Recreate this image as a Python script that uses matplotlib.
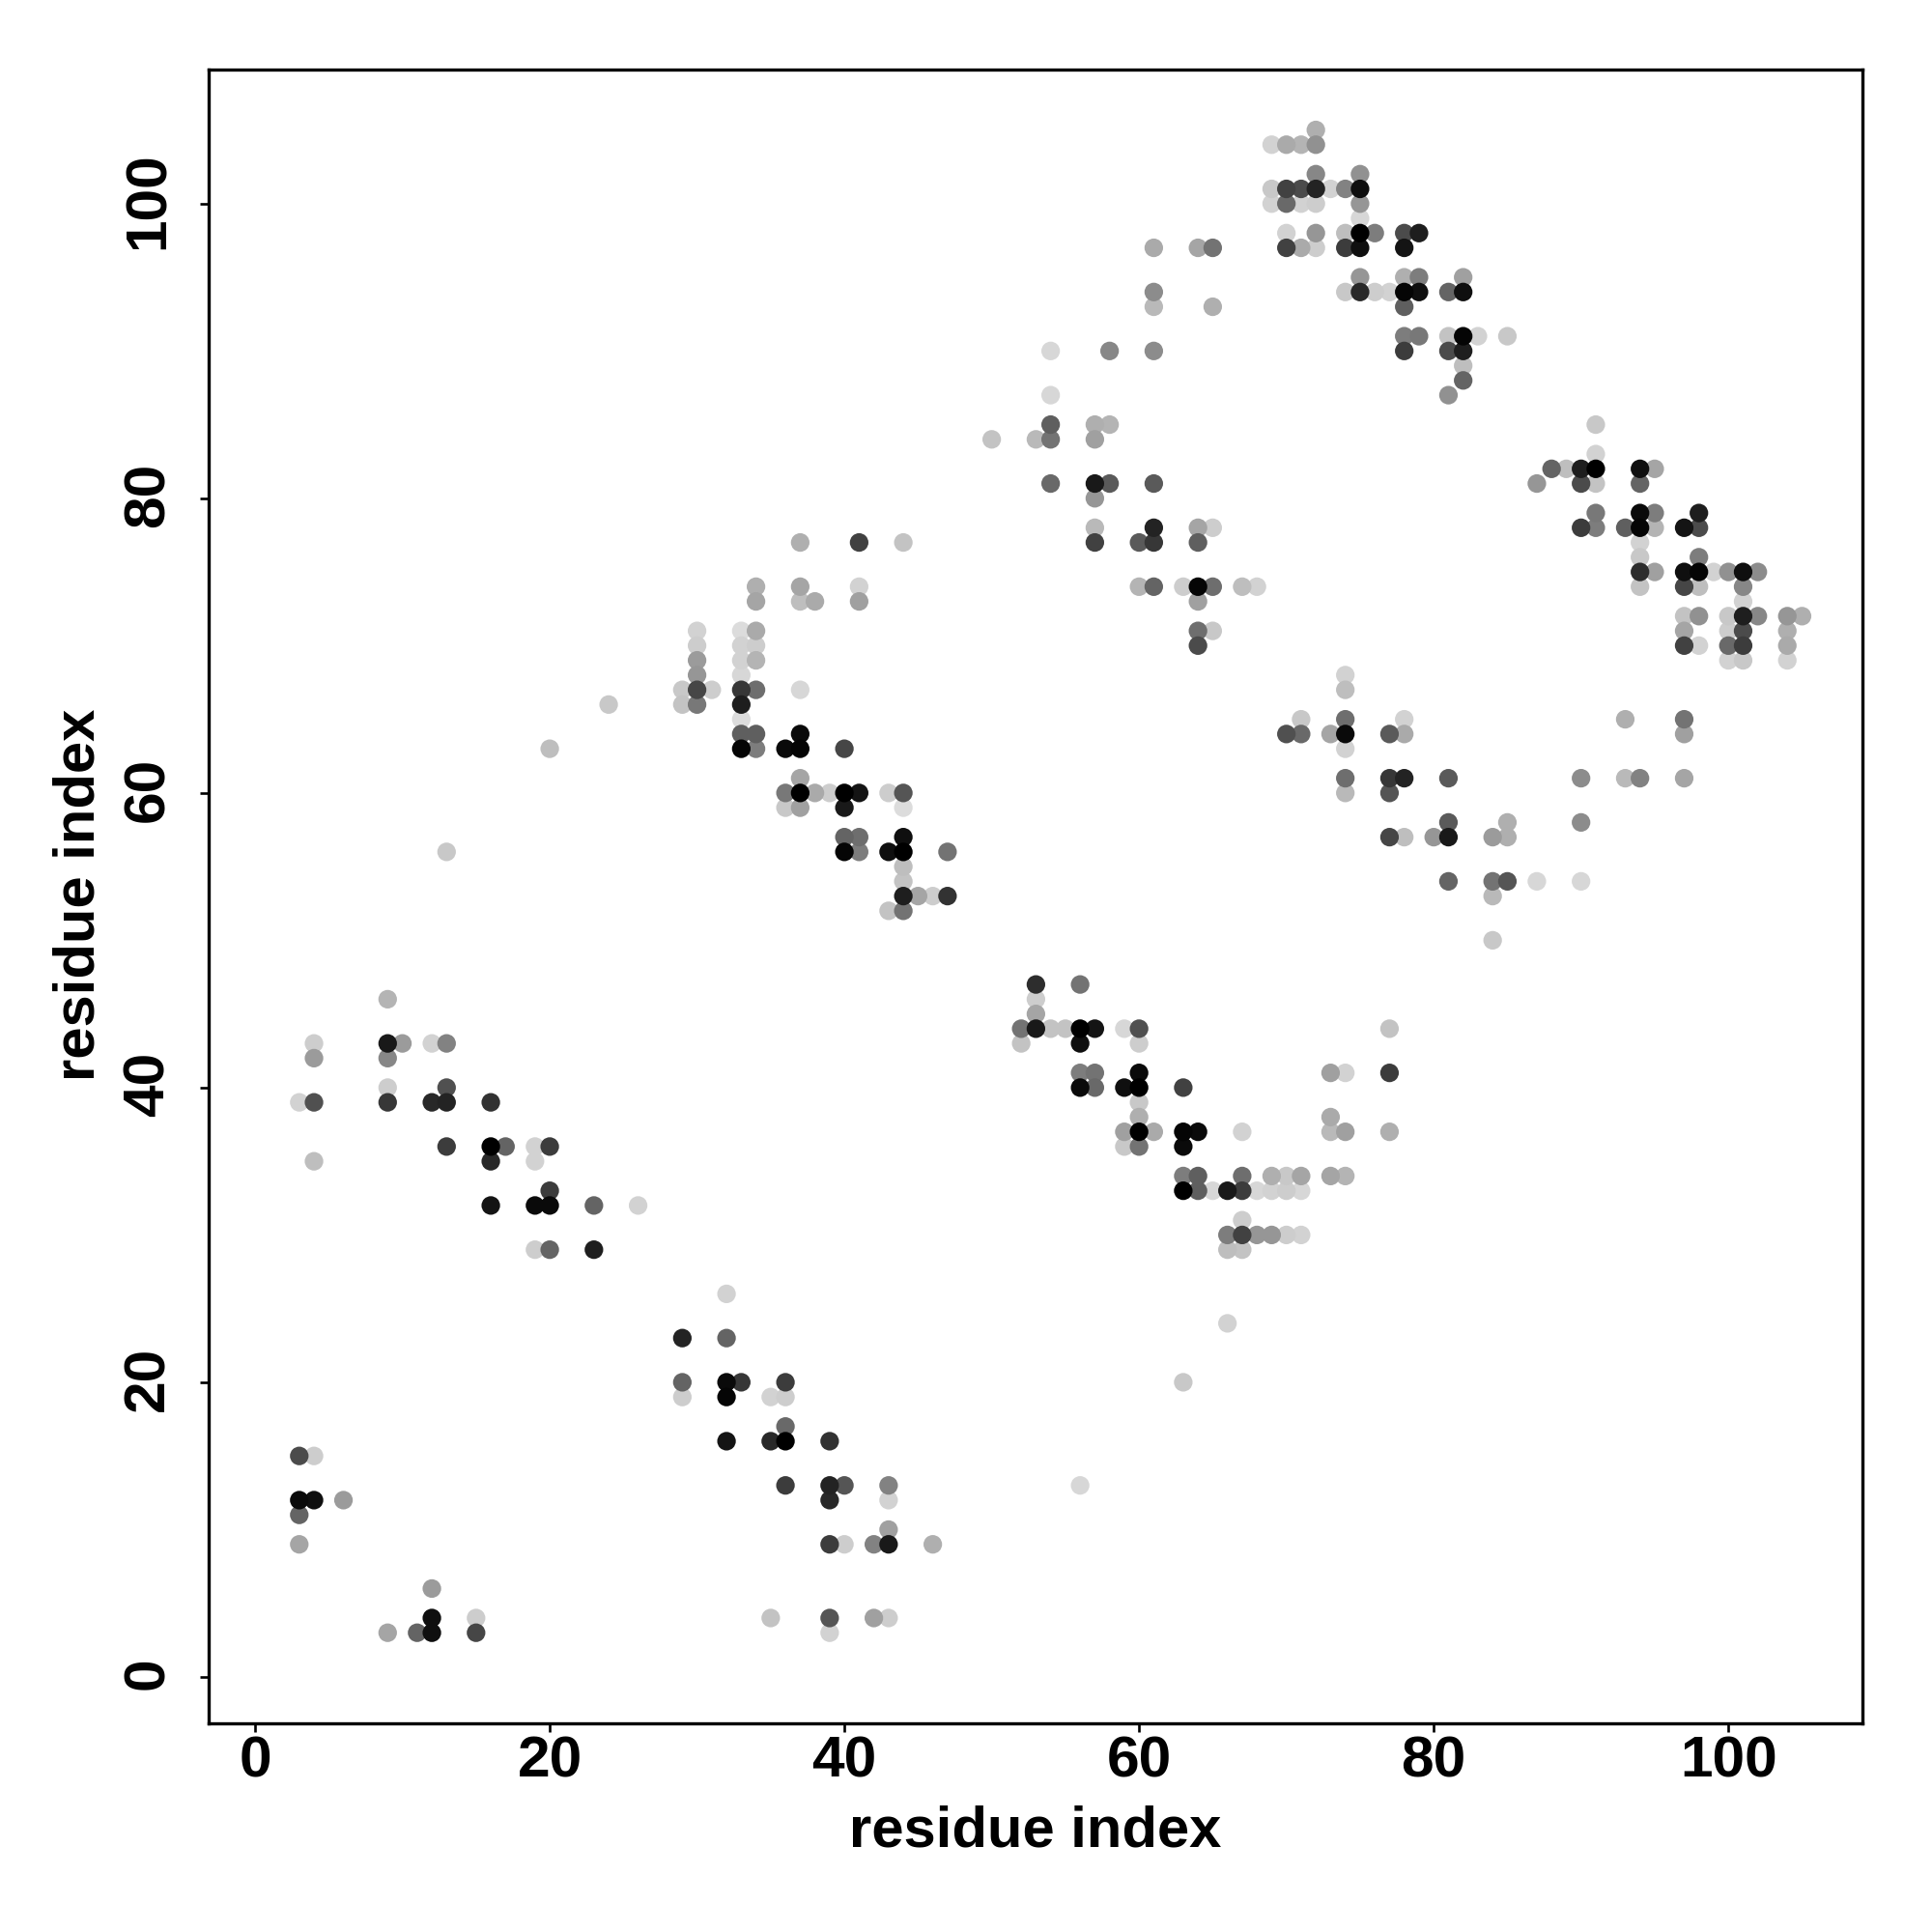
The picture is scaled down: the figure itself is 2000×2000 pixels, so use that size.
import numpy as np
import matplotlib
matplotlib.use("Agg")
import matplotlib.pyplot as plt
from matplotlib.transforms import ScaledTranslation

plt.rcParams['font.family'] = ['Liberation Sans', 'DejaVu Sans']

row_y = [105, 104, 102, 101, 100, 99, 98, 97, 95, 94, 93, 91, 90, 89, 88, 87,
         85, 84, 83, 82, 81, 80, 79, 78, 77, 76, 75, 74, 73, 72, 71, 70, 69,
         68, 67, 66, 65, 64, 63, 61, 60, 59, 58, 57, 56, 55, 54, 53, 52, 50,
         47, 46, 45, 44, 43, 42, 41, 40, 39, 38, 37, 36, 35, 34, 33, 32, 31, 30, 29,
         26, 24, 23, 20, 19, 17, 16, 15, 13, 12, 11, 10, 9, 6, 4, 3]

row_x = [
    [72], [69, 70, 71, 72], [72, 75], [69, 70, 71, 72, 73, 74, 75],
    [69, 70, 71, 72, 75], [75], [70, 72, 74, 75, 76, 78, 79],
    [61, 64, 65, 70, 71, 72, 74, 75, 78], [75, 78, 79, 82],
    [61, 74, 75, 76, 77, 78, 79, 81, 82], [61, 65, 78],
    [78, 79, 81, 82, 83, 85], [54, 58, 61, 78, 81, 82], [82], [82], [54, 81],
    [54, 57, 58, 91], [50, 53, 54, 57], [91], [88, 89, 90, 91, 94, 95],
    [54, 57, 58, 61, 87, 90, 91, 94], [57], [91, 94, 95, 98],
    [57, 61, 64, 65, 90, 91, 93, 94, 95, 97, 98],
    [37, 41, 44, 57, 60, 61, 64, 94], [94, 98],
    [94, 95, 97, 98, 99, 100, 101, 102],
    [34, 37, 41, 60, 61, 63, 64, 65, 67, 68, 94, 97, 98, 101],
    [34, 37, 38, 41, 64, 101],
    [97, 98, 100, 101, 102, 104, 105],
    [30, 33, 34, 64, 65, 97, 100, 101, 104],
    [30, 33, 34, 64, 97, 98, 100, 101, 104],
    [30, 33, 34, 100, 101, 104],
    [30, 33, 74], [29, 30, 31, 33, 34, 37, 74], [24, 29, 30, 33],
    [33, 71, 74, 78, 93, 97], [33, 34, 37, 70, 71, 73, 74, 77, 78, 97],
    [20, 33, 34, 36, 37, 40, 74],
    [37, 74, 77, 78, 81, 90, 93, 94, 97],
    [36, 37, 38, 39, 40, 41, 43, 44, 74, 77],
    [36, 37, 40, 44], [81, 85, 90], [40, 41, 44, 77, 78, 80, 81, 84, 85],
    [13, 40, 41, 43, 44, 47], [44], [44, 81, 84, 85, 87, 90],
    [44, 45, 46, 47, 84], [43, 44], [84],
    [53, 56], [9, 53], [53],
    [52, 53, 54, 55, 56, 57, 59, 60, 77], [4, 9, 10, 12, 13, 52, 56, 60], [4, 9],
    [56, 57, 60, 73, 74, 77], [9, 13, 56, 57, 59, 60, 63], [3, 4, 9, 12, 13, 16, 60],
    [60, 73], [59, 60, 61, 63, 64, 67, 73, 74, 77],
    [13, 16, 17, 19, 20, 59, 60, 63], [4, 16, 19],
    [63, 64, 67, 69, 70, 71, 73, 74], [20, 63, 64, 65, 66, 67, 68, 69, 70, 71],
    [16, 19, 20, 23, 26], [67], [66, 67, 68, 69, 70, 71],
    [19, 20, 23, 66, 67],
    [32], [66], [29, 32], [29, 32, 33, 36, 63], [29, 32, 35, 36], [36],
    [32, 35, 36, 39], [3, 4], [36, 39, 40, 43, 56], [3, 4, 6, 39, 43], [3], [43],
    [3, 39, 40, 42, 43, 46], [12], [12, 15, 35, 39, 42, 43], [9, 11, 12, 15, 39],
]

row_gray = [
    [175], [210, 170, 180, 145], [135, 145], [200, 65, 75, 35, 210, 130, 15],
    [210, 105, 210, 205, 150], [215], [210, 150, 190, 0, 125, 75, 30],
    [170, 165, 115, 65, 170, 205, 60, 15, 20], [150, 175, 125, 160],
    [140, 200, 40, 205, 210, 5, 15, 100, 15], [185, 175, 95],
    [125, 120, 195, 5, 210, 200], [215, 135, 140, 60, 75, 30], [190], [100], [215, 145],
    [95, 175, 180, 200], [195, 185, 115, 160], [210], [100, 190, 30, 0, 15, 165],
    [105, 25, 90, 90, 150, 75, 195, 100], [150], [120, 10, 125, 30],
    [185, 35, 165, 205, 60, 125, 95, 5, 180, 20, 75],
    [175, 65, 195, 65, 90, 55, 95, 210], [200, 125],
    [45, 160, 15, 5, 210, 145, 15, 140],
    [175, 165, 210, 180, 100, 205, 5, 110, 190, 210, 195, 70, 190, 135],
    [165, 190, 170, 160, 160, 210],
    [195, 145, 200, 30, 135, 150, 175],
    [210, 220, 170, 110, 200, 165, 205, 75, 175],
    [205, 210, 205, 75, 65, 210, 105, 60, 170],
    [155, 210, 180, 210, 200, 210],
    [150, 215, 210], [200, 70, 205, 55, 110, 215, 190], [200, 195, 120, 30],
    [220, 200, 110, 210, 175, 115], [95, 95, 10, 80, 105, 165, 10, 90, 170, 160],
    [190, 5, 125, 10, 5, 70, 210],
    [165, 110, 55, 35, 90, 140, 185, 130, 165],
    [120, 0, 170, 205, 0, 20, 205, 85, 185, 85],
    [200, 160, 25, 220], [90, 175, 140], [100, 110, 15, 70, 190, 150, 25, 155, 175],
    [200, 5, 125, 15, 0, 115], [190], [195, 100, 115, 85, 215, 215],
    [30, 165, 205, 50, 185], [195, 115], [200],
    [45, 115], [180, 205], [165],
    [115, 25, 195, 195, 0, 20, 215, 80, 195], [205, 25, 155, 210, 130, 195, 15, 205], [155, 135],
    [125, 115, 10, 160, 210, 60], [205, 80, 10, 105, 15, 0, 65], [210, 80, 55, 40, 35, 50, 200],
    [175, 170], [160, 0, 170, 5, 10, 210, 185, 160, 175],
    [60, 0, 100, 210, 60, 200, 115, 10], [190, 40, 210],
    [125, 95, 110, 175, 200, 165, 165, 180], [60, 0, 95, 215, 25, 60, 215, 210, 205, 215],
    [20, 10, 10, 100, 210], [205], [125, 65, 150, 150, 205, 210],
    [205, 100, 30, 190, 195],
    [210], [210], [35, 100], [100, 10, 55, 60, 200], [205, 5, 210, 205], [105],
    [20, 40, 0, 50], [75, 205], [60, 35, 85, 130, 215], [10, 15, 155, 40, 210], [100], [160],
    [165, 60, 205, 130, 25, 175], [155], [15, 205, 195, 85, 160, 205], [165, 100, 15, 70, 210],
]

x_ticks = [0, 20, 40, 60, 80, 100]
y_ticks = [0, 20, 40, 60, 80, 100]
x_label = "residue index"
y_label = "residue index"

xs = np.concatenate([np.asarray(r, float) for r in row_x])
ys = np.concatenate([np.full(len(r), v, float) for r, v in zip(row_x, row_y)])
gs = np.concatenate([np.asarray(r, float) for r in row_gray])
order = np.argsort(-gs, kind="stable")

W = H = 2000
fig = plt.figure(figsize=(20, 20), dpi=100, facecolor="white")
left, right, top, bottom = 216, 1928, 72, 1783.7
ax = fig.add_axes([left / W, 1 - bottom / H, (right - left) / W, (bottom - top) / H])
ax.scatter(xs[order], ys[order], s=192, c=np.stack([gs[order] / 255] * 3, axis=1),
           linewidths=0, clip_on=True)
ax.set_xlim(-3.15, 109.1)
ax.set_ylim(-3.13, 109.1)
ax.set_xticks(x_ticks)
ax.set_yticks(y_ticks)
ax.tick_params(axis="x", length=6.5, width=1.9, pad=3, labelsize=43.5)
ax.tick_params(axis="y", length=6.5, width=1.9, pad=18.5, labelsize=43.5)
for t in ax.get_xticklabels():
    t.set_fontweight("bold")
y_shift = ScaledTranslation(0, 3.5 / 100, fig.dpi_scale_trans)
for t in ax.get_yticklabels():
    t.set_fontweight("bold")
    t.set_rotation(90)
    t.set_va("center")
    t.set_transform(t.get_transform() + y_shift)
for s in ax.spines.values():
    s.set_linewidth(2.4)
ax.set_xlabel(x_label, fontsize=43, fontweight="bold", labelpad=12)
ax.set_ylabel(y_label, fontsize=43, fontweight="bold", labelpad=14)
ax.yaxis.set_label_coords((110 - left) / (right - left), 0.5 + 2 / (bottom - top))
fig.savefig("out.png", dpi=100, facecolor="white")
